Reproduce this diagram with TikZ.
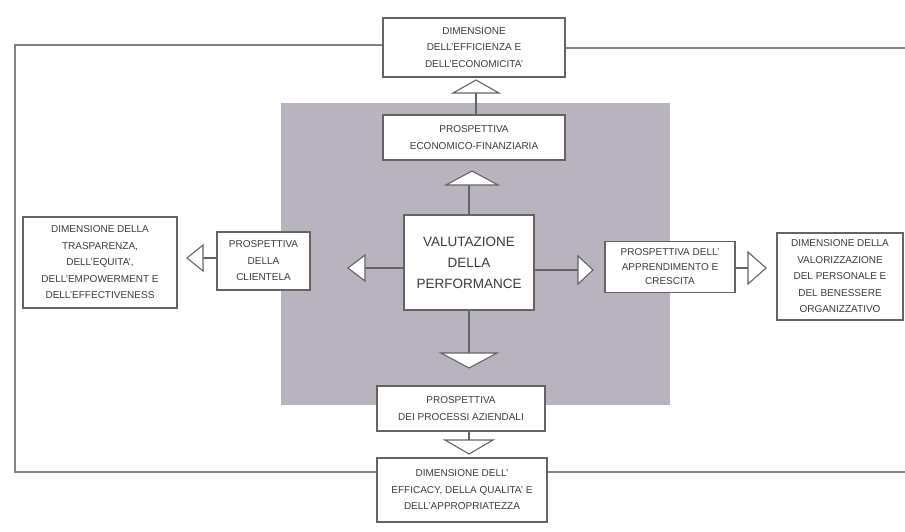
\documentclass[tikz,border=0pt]{standalone}
\usepackage{fontspec}
\setmainfont{Liberation Sans}
\usetikzlibrary{calc}
\definecolor{greybg}{RGB}{184,179,190}
\definecolor{linec}{RGB}{100,100,100}
\definecolor{txt}{RGB}{60,60,60}
\tikzset{
 box/.style={draw=linec, line width=1.1pt, fill=white, align=center, text=txt, font=\fontsize{10}{16.5}\selectfont, inner sep=0pt},
 bigbox/.style={box, font=\fontsize{13.5}{21}\selectfont},
 conn/.style={draw=linec, line width=1.1pt},
 frame/.style={draw=linec!80, line width=1.3pt},
 tri/.style={draw=linec, line width=1.1pt, fill=white, line join=miter},
}
\begin{document}
\begin{tikzpicture}[x=1pt,y=-1pt]
\useasboundingbox (0,0) rectangle (905,531);
\fill[white] (0,0) rectangle (905,531);
\fill[greybg] (281,103) rectangle (670,405);

% nodes
\node[box, minimum width=182pt, minimum height=59pt] (top) at (474,47.5) {DIMENSIONE\\DELL’EFFICIENZA E\\DELL’ECONOMICITA’};
\node[box, minimum width=182pt, minimum height=45pt] (econ) at (474,137.5) {PROSPETTIVA\\ECONOMICO-FINANZIARIA};
\node[bigbox, minimum width=130pt, minimum height=95pt] (center) at (469,262.5) {VALUTAZIONE\\DELLA\\PERFORMANCE};
\node[box, minimum width=93pt, minimum height=58pt] (client) at (263.5,261) {PROSPETTIVA\\DELLA\\CLIENTELA};
\node[box, minimum width=154pt, minimum height=91pt] (leftdim) at (100,262.5) {DIMENSIONE DELLA\\TRASPARENZA,\\DELL’EQUITA’,\\DELL’EMPOWERMENT E\\DELL’EFFECTIVENESS};
\node[box, font=\fontsize{10}{14.5}\selectfont, minimum width=130pt, minimum height=51pt] (appr) at (670,267) {PROSPETTIVA DELL’\\APPRENDIMENTO E\\CRESCITA};
\node[box, minimum width=126pt, minimum height=87pt] (rightdim) at (840,276.5) {DIMENSIONE DELLA\\VALORIZZAZIONE\\DEL PERSONALE E\\DEL BENESSERE\\ORGANIZZATIVO};
\node[box, minimum width=168pt, minimum height=45pt] (proc) at (461,408.5) {PROSPETTIVA\\DEI PROCESSI AZIENDALI};
\node[box, minimum width=170pt, minimum height=64pt] (bottom) at (462,490) {DIMENSIONE DELL’\\EFFICACY, DELLA QUALITA’ E\\DELL’APPROPRIATEZZA};

% frame
\coordinate (fTL) at (15,45);
\coordinate (fBL) at (15,472);
\coordinate (fTR) at (905,48);
\coordinate (fBR) at (905,472);
\draw[frame] (top.west |- fTL) -- (fTL) -- (fBL) -- (bottom.west |- fBL);
\draw[frame] (top.east |- fTR) -- (fTR);
\draw[frame] (bottom.east |- fBR) -- (fBR);

% arrows: base (b) and tip (t)
\coordinate (a1b) at (476,93);  \coordinate (a1t) at (476,80);
\coordinate (a2b) at (472,185); \coordinate (a2t) at (472,171);
\coordinate (a3b) at (469,353); \coordinate (a3t) at (469,368);
\coordinate (a4b) at (469,440); \coordinate (a4t) at (469,454);
\coordinate (a5b) at (365,268); \coordinate (a5t) at (348,268);
\coordinate (a6b) at (203,258); \coordinate (a6t) at (187,258);
\coordinate (a7b) at (578,270); \coordinate (a7t) at (593,270);
\coordinate (a8b) at (748,268); \coordinate (a8t) at (766,268);

\draw[conn] (econ.north -| a1b) -- (a1b);
\draw[conn] (center.north) -- (center.north |- a2b);
\draw[conn] (center.south) -- (center.south |- a3b);
\draw[conn] (proc.south -| a4b) -- (a4b);
\draw[conn] (center.west |- a5b) -- (a5b);
\draw[conn] (client.west |- a6b) -- (a6b);
\draw[conn] (center.east |- a7b) -- (a7b);
\draw[conn] (appr.east |- a8b) -- (a8b);

\draw[tri] (a1t) -- ($(a1b)+(-23,0)$) -- ($(a1b)+(23,0)$) -- cycle;
\draw[tri] (a2t) -- ($(a2b)+(-26,0)$) -- ($(a2b)+(26,0)$) -- cycle;
\draw[tri] (a3t) -- ($(a3b)+(-28,0)$) -- ($(a3b)+(28,0)$) -- cycle;
\draw[tri] (a4t) -- ($(a4b)+(-24,0)$) -- ($(a4b)+(24,0)$) -- cycle;
\draw[tri] (a5t) -- ($(a5b)+(0,-13)$) -- ($(a5b)+(0,13)$) -- cycle;
\draw[tri] (a6t) -- ($(a6b)+(0,-13)$) -- ($(a6b)+(0,13)$) -- cycle;
\draw[tri] (a7t) -- ($(a7b)+(0,-14)$) -- ($(a7b)+(0,14)$) -- cycle;
\draw[tri] (a8t) -- ($(a8b)+(0,-16)$) -- ($(a8b)+(0,16)$) -- cycle;
\end{tikzpicture}
\end{document}
